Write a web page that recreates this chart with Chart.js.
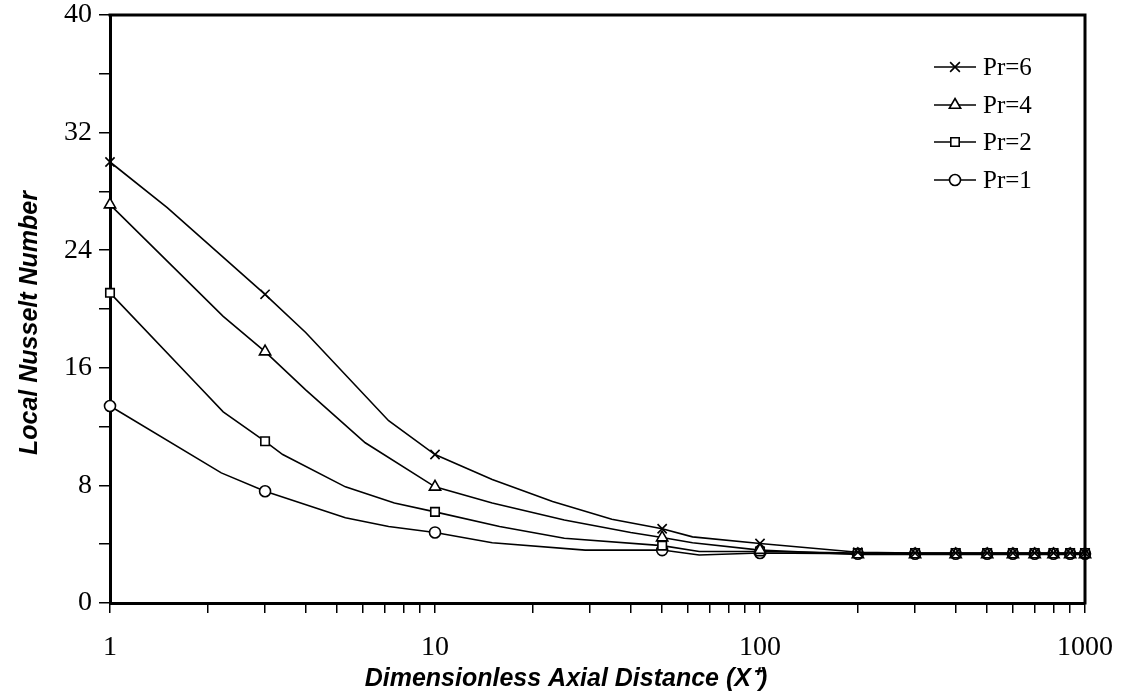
<!DOCTYPE html>
<html>
<head>
<meta charset="utf-8">
<script src="https://cdn.jsdelivr.net/npm/chart.js@4.4.0/dist/chart.umd.min.js"></script>
<style>
  html, body { margin: 0; padding: 0; background: #fff; }
  #wrap { width: 1128px; height: 699px; position: relative; }
</style>
</head>
<body>
<div id="wrap"><canvas id="nuChart" width="1128" height="699"></canvas></div>
<script>
// Values
const markerX = [1, 3, 10, 50, 100, 200, 300, 400, 500, 600, 700, 800, 900, 1000];

const pr6X = [1, 1.5, 3, 4, 7.2, 10, 15, 23, 35, 50, 62, 100, 200, 300, 400, 500, 600, 700, 800, 900, 1000];
const pr6Y = [30.0, 26.9, 21.0, 18.4, 12.4, 10.1, 8.4, 6.9, 5.7, 5.05, 4.5, 4.05, 3.45, 3.4, 3.4, 3.4, 3.4, 3.4, 3.4, 3.4, 3.4];

const pr4X = [1, 2.23, 3, 4, 6.1, 10, 15, 25, 40, 50, 62, 100, 200, 300, 400, 500, 600, 700, 800, 900, 1000];
const pr4Y = [27.1, 19.5, 17.1, 14.5, 10.9, 7.9, 6.8, 5.65, 4.8, 4.45, 4.1, 3.6, 3.3, 3.3, 3.3, 3.3, 3.3, 3.3, 3.3, 3.3, 3.3];

const pr2X = [1, 1.83, 2.23, 3, 3.4, 5.3, 7.5, 10, 15.8, 25, 50, 65, 100, 200, 300, 400, 500, 600, 700, 800, 900, 1000];
const pr2Y = [21.1, 15.0, 13.0, 11.0, 10.1, 7.9, 6.8, 6.2, 5.2, 4.4, 3.9, 3.5, 3.5, 3.4, 3.4, 3.4, 3.4, 3.4, 3.4, 3.4, 3.4, 3.4];

const pr1X = [1, 2.2, 3, 5.3, 7.2, 10, 15, 29, 40, 50, 65, 100, 200, 300, 400, 500, 600, 700, 800, 900, 1000];
const pr1Y = [13.4, 8.85, 7.6, 5.8, 5.2, 4.8, 4.1, 3.6, 3.6, 3.6, 3.27, 3.4, 3.35, 3.35, 3.35, 3.35, 3.35, 3.35, 3.35, 3.35, 3.35];

const xTickValues = [1, 2, 3, 4, 5, 6, 7, 8, 9, 10, 20, 30, 40, 50, 60, 70, 80, 90, 100,
                     200, 300, 400, 500, 600, 700, 800, 900, 1000];
const xLabelled = [1, 10, 100, 1000];

const seriesList = [
    { label: 'Pr=6', xs: pr6X, ys: pr6Y, style: 'crossRot' },
    { label: 'Pr=4', xs: pr4X, ys: pr4Y, style: 'triangle' },
    { label: 'Pr=2', xs: pr2X, ys: pr2Y, style: 'rect' },
    { label: 'Pr=1', xs: pr1X, ys: pr1Y, style: 'circle' }
];

const serif = "'Liberation Serif', 'DejaVu Serif', serif";
const sans = "'Liberation Sans', Arial, sans-serif";

function markerRadius(style) {
    if (style === 'crossRot') return 6.5;
    if (style === 'triangle') return 6.5;
    if (style === 'rect') return 6;
    return 5.5;
}

const datasets = seriesList.map(s => ({
    label: s.label,
    data: s.xs.map((x, i) => ({ x: x, y: s.ys[i] })),
    borderColor: '#000',
    backgroundColor: '#fff',
    borderWidth: 1.6,
    tension: 0,
    pointStyle: s.style,
    pointRadius: s.xs.map(x => markerX.includes(x) ? markerRadius(s.style) : 0),
    pointBorderWidth: 1.6,
    pointBorderColor: '#000',
    pointBackgroundColor: '#fff',
    clip: false
}));

function drawMarker(ctx, style, x, y, r) {
    ctx.beginPath();
    if (style === 'crossRot') {
        const d = r * 0.75;
        ctx.moveTo(x - d, y - d); ctx.lineTo(x + d, y + d);
        ctx.moveTo(x + d, y - d); ctx.lineTo(x - d, y + d);
        ctx.stroke();
        return;
    }
    if (style === 'triangle') {
        ctx.moveTo(x, y - r);
        ctx.lineTo(x + r * 0.87, y + r * 0.5);
        ctx.lineTo(x - r * 0.87, y + r * 0.5);
        ctx.closePath();
    } else if (style === 'rect') {
        const s = r * 0.7;
        ctx.rect(x - s, y - s, 2 * s, 2 * s);
    } else {
        ctx.arc(x, y, r, 0, Math.PI * 2);
    }
    ctx.fill();
    ctx.stroke();
}

const framePlugin = {
    id: 'frame',
    afterDraw(chart) {
        const ctx = chart.ctx;
        const a = chart.chartArea;
        ctx.save();
        // top and right border of the plot box
        ctx.strokeStyle = '#000';
        ctx.lineWidth = 3;
        ctx.beginPath();
        ctx.moveTo(a.left - 1.5, a.top);
        ctx.lineTo(a.right, a.top);
        ctx.lineTo(a.right, a.bottom + 1.5);
        ctx.stroke();

        // legend: line with marker, then label
        ctx.lineWidth = 1.6;
        const rowY = [67, 105, 142, 180];
        seriesList.forEach((s, i) => {
            const y = rowY[i];
            ctx.strokeStyle = '#000';
            ctx.beginPath();
            ctx.moveTo(934, y);
            ctx.lineTo(976, y);
            ctx.stroke();
            ctx.fillStyle = '#fff';
            drawMarker(ctx, s.style, 955, y, markerRadius(s.style));
            ctx.fillStyle = '#000';
            ctx.font = '25px ' + serif;
            ctx.textAlign = 'left';
            ctx.textBaseline = 'middle';
            ctx.fillText(s.label, 983, y + 1);
        });
        ctx.restore();

        // axis titles
        ctx.save();
        ctx.fillStyle = '#000';
        ctx.font = 'italic bold 25px ' + sans;
        ctx.textAlign = 'center';
        ctx.textBaseline = 'middle';
        ctx.fillText('Dimensionless Axial Distance (X\u207A)', 566, 679);
        ctx.translate(30, 323);
        ctx.rotate(-Math.PI / 2);
        ctx.fillText('Local Nusselt Number', 0, 0);
        ctx.restore();
    }
};

new Chart(document.getElementById('nuChart'), {
    type: 'line',
    data: { datasets: datasets },
    options: {
        responsive: false,
        animation: false,
        layout: { padding: { top: 15, right: 43, left: 0, bottom: 0 } },
        plugins: {
            legend: { display: false },
            tooltip: { enabled: false }
        },
        scales: {
            x: {
                type: 'logarithmic',
                min: 1,
                max: 1000,
                afterBuildTicks(scale) {
                    scale.ticks = xTickValues.map(v => ({ value: v }));
                },
                afterFit(scale) {
                    scale.height = 96;
                    scale.paddingLeft = 0;
                    scale.paddingRight = 0;
                },
                ticks: {
                    autoSkip: false,
                    maxRotation: 0,
                    padding: 18,
                    color: '#000',
                    font: { family: serif, size: 28 },
                    callback: v => xLabelled.includes(v) ? String(v) : ''
                },
                grid: {
                    drawOnChartArea: false,
                    drawTicks: true,
                    tickLength: 10,
                    color: '#000',
                    lineWidth: 1.5
                },
                border: { display: true, color: '#000', width: 3 }
            },
            y: {
                min: 0,
                max: 40,
                afterFit(scale) {
                    scale.width = 110;
                    scale.paddingTop = 0;
                    scale.paddingBottom = 0;
                },
                ticks: {
                    stepSize: 4,
                    padding: 7,
                    color: '#000',
                    font: { family: serif, size: 28, lineHeight: 1 },
                    callback: v => v % 8 === 0 ? String(v) : ''
                },
                grid: {
                    drawOnChartArea: false,
                    drawTicks: true,
                    tickLength: 11,
                    color: '#000',
                    lineWidth: 1.5
                },
                border: { display: true, color: '#000', width: 3 }
            }
        }
    },
    plugins: [framePlugin]
});
</script>
</body>
</html>
